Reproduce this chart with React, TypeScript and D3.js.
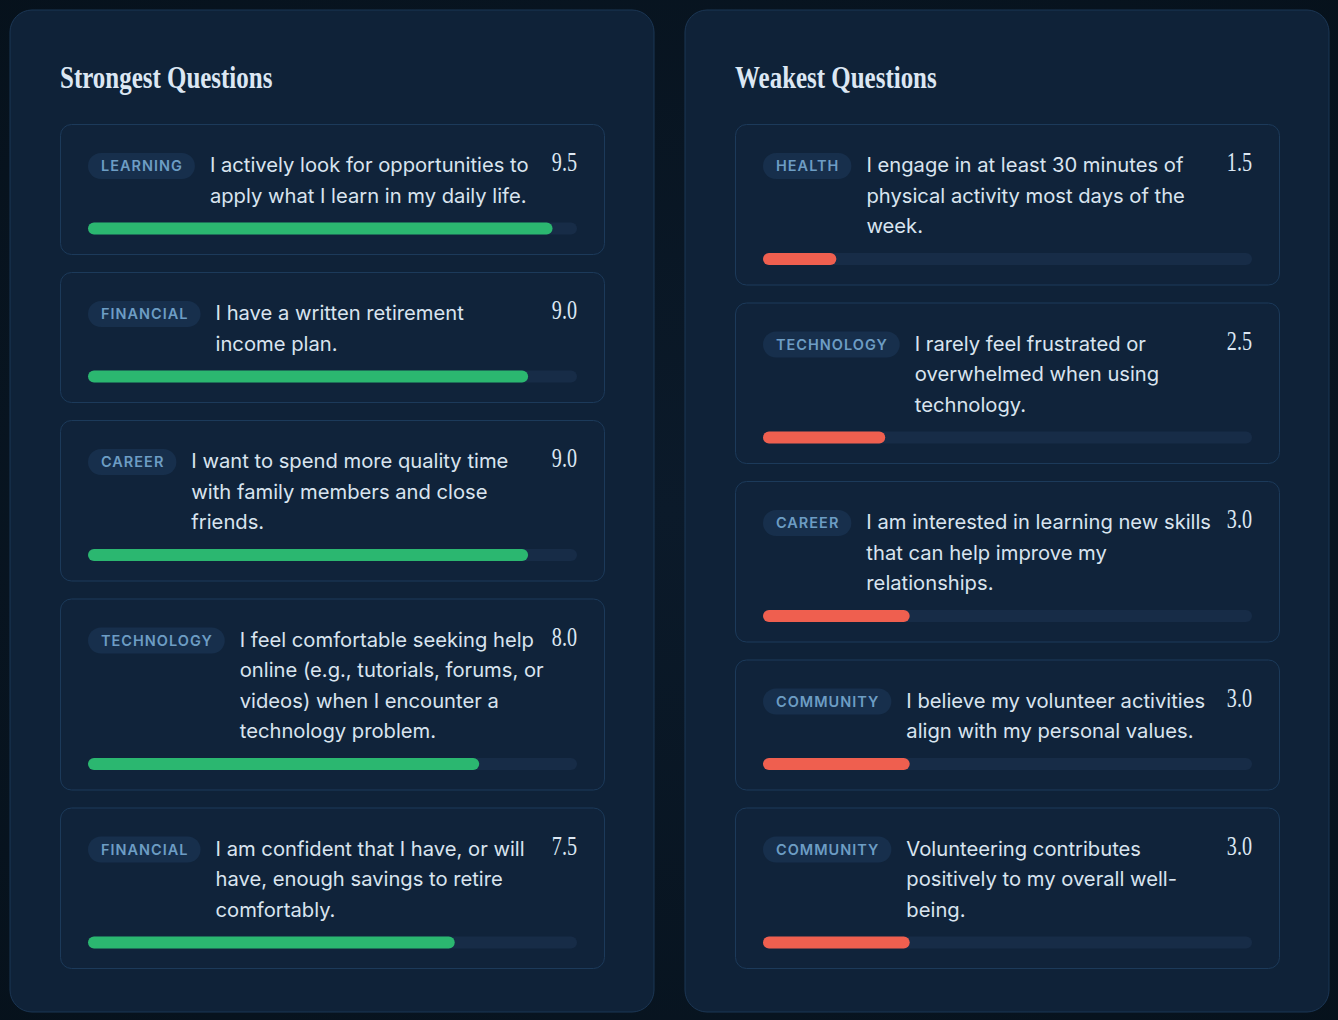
import * as d3 from "d3";

// Category, question text (pre-wrapped lines) and score for each card
const strongCategories = ["LEARNING", "FINANCIAL", "CAREER", "TECHNOLOGY", "FINANCIAL"];
const strongQuestions = [
  ["I actively look for opportunities to", "apply what I learn in my daily life."],
  ["I have a written retirement", "income plan."],
  ["I want to spend more quality time", "with family members and close", "friends."],
  ["I feel comfortable seeking help", "online (e.g., tutorials, forums, or", "videos) when I encounter a", "technology problem."],
  ["I am confident that I have, or will", "have, enough savings to retire", "comfortably."],
];
const strongScores = [9.5, 9.0, 9.0, 8.0, 7.5];

const weakCategories = ["HEALTH", "TECHNOLOGY", "CAREER", "COMMUNITY", "COMMUNITY"];
const weakQuestions = [
  ["I engage in at least 30 minutes of", "physical activity most days of the", "week."],
  ["I rarely feel frustrated or", "overwhelmed when using", "technology."],
  ["I am interested in learning new skills", "that can help improve my", "relationships."],
  ["I believe my volunteer activities", "align with my personal values."],
  ["Volunteering contributes", "positively to my overall well-", "being."],
];
const weakScores = [1.5, 2.5, 3.0, 3.0, 3.0];

const W = 1338;
const H = 1020;
const SANS = "Inter, 'DejaVu Sans', sans-serif";
const SERIF = "'Liberation Serif', 'DejaVu Serif', serif";

const PANEL_W = 644;
const PANEL_H = 1002;
const CARD_X = 50;
const CARD_W = 545;
const CARD_TOP = 114;
const CARD_GAP = 17;
const PAD = 28;
const LINE_H = 30.5;
const BAR_H = 12;
const TAG_FONT = 14.5;
const TAG_SPACING = 1;

let ctx: CanvasRenderingContext2D | null = null;
function measure(text: string, font: string) {
  if (!ctx) ctx = document.createElement("canvas").getContext("2d");
  ctx!.font = font;
  return ctx!.measureText(text).width;
}

const x = d3.scaleLinear().domain([0, 10]).range([0, CARD_W - PAD * 2]);

function Panel({ px, title, cats, questions, scores, color }: {
  px: number; title: string; cats: string[]; questions: string[][]; scores: number[]; color: string;
}) {
  const heights = questions.map((q) => 100.5 + (q.length - 1) * LINE_H);
  const tops: number[] = [];
  heights.reduce((acc, h) => { tops.push(acc); return acc + h + CARD_GAP; }, CARD_TOP);

  return (
    <g transform={`translate(${px},10)`}>
      <rect width={PANEL_W} height={PANEL_H} rx={22} fill="#0f2238" stroke="#1b3654" strokeWidth={1} />
      <text
        transform={`translate(${CARD_X},78) scale(0.78,1)`}
        fill="#dce7f3" fontFamily={SERIF} fontSize={32} fontWeight={700}
      >{title}</text>
      {questions.map((lines, i) => {
        const top = tops[i];
        const tagW = measure(cats[i], `600 ${TAG_FONT}px ${SANS}`) + cats[i].length * TAG_SPACING + 25;
        const textX = PAD + tagW + 15;
        const barY = 48 + (lines.length - 1) * LINE_H + 20;
        return (
          <g key={i} transform={`translate(${CARD_X},${top})`}>
            <rect x={0.5} y={0.5} width={CARD_W - 1} height={heights[i] - 1} rx={11}
              fill="#10233a" stroke="#1c3a5a" strokeWidth={1} />
            <rect x={PAD} y={29} width={tagW} height={26} rx={13} fill="#172f4c" />
            <text x={PAD + 13} y={47} fill="#6d9dc4" fontFamily={SANS} fontSize={TAG_FONT}
              fontWeight={600} letterSpacing={TAG_SPACING}>{cats[i]}</text>
            {lines.map((l, j) => (
              <text key={j} x={textX} y={48 + j * LINE_H} fill="#d9e4ef" fontFamily={SANS} fontSize={20.2}>
                {l}
              </text>
            ))}
            <text
              transform={`translate(${CARD_W - PAD},47) scale(0.72,1)`}
              textAnchor="end" fill="#dce7f3" fontFamily={SERIF} fontSize={28}
            >{scores[i].toFixed(1)}</text>
            <rect x={PAD} y={barY} width={x(10)} height={BAR_H} rx={BAR_H / 2} fill="#172c47" />
            <rect x={PAD} y={barY} width={x(scores[i])} height={BAR_H} rx={BAR_H / 2} fill={color} />
          </g>
        );
      })}
    </g>
  );
}

export default function App() {
  return (
    <svg width={W} height={H} style={{ position: "absolute", left: 0, top: 0, display: "block" }}>
      <defs>
        <radialGradient id="bg" cx="50%" cy="50%" r="75%">
          <stop offset="0%" stopColor="#0b1a2a" />
          <stop offset="100%" stopColor="#06111b" />
        </radialGradient>
      </defs>
      <rect width={W} height={H} fill="url(#bg)" />
      <Panel px={10} title="Strongest Questions" cats={strongCategories} questions={strongQuestions}
        scores={strongScores} color="#2bb770" />
      <Panel px={685} title="Weakest Questions" cats={weakCategories} questions={weakQuestions}
        scores={weakScores} color="#ef5f4f" />
    </svg>
  );
}
